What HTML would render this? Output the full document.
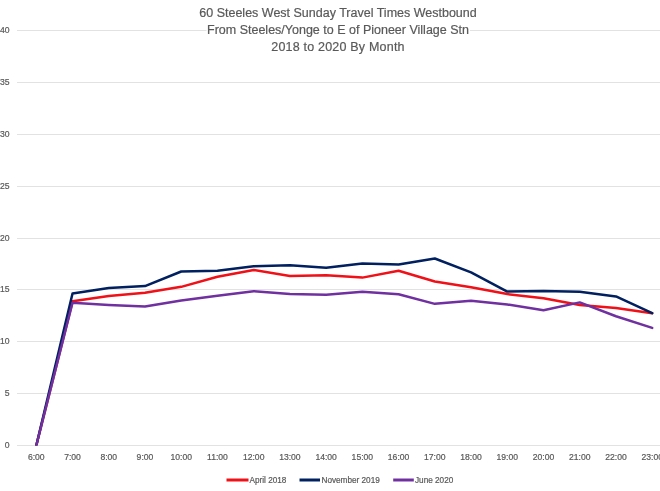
<!DOCTYPE html>
<html><head><meta charset="utf-8"><style>
html,body{margin:0;padding:0;background:#fff;width:660px;height:491px;overflow:hidden}
svg{display:block;will-change:transform}
text{font-family:"Liberation Sans",sans-serif;fill:#595959;stroke:#595959;stroke-width:0.2px}
.ti{font-size:12.5px}
.ax{font-size:8.6px}
.lg{font-size:8.2px}
</style></head><body>
<svg width="660" height="491" viewBox="0 0 660 491">
<defs><clipPath id="pc"><rect x="17" y="0" width="660" height="445.6"/></clipPath></defs>
<rect width="660" height="491" fill="#fff"/>
<rect x="17" width="643" y="445" height="1" fill="#E2E2E2"/>
<text x="9.5" y="448.00" text-anchor="end" class="ax">0</text>
<rect x="17" width="643" y="393" height="1" fill="#E2E2E2"/>
<text x="9.5" y="396.00" text-anchor="end" class="ax">5</text>
<rect x="17" width="643" y="341" height="1" fill="#E2E2E2"/>
<text x="9.5" y="344.00" text-anchor="end" class="ax">10</text>
<rect x="17" width="643" y="289" height="1" fill="#E2E2E2"/>
<text x="9.5" y="292.00" text-anchor="end" class="ax">15</text>
<rect x="17" width="643" y="238" height="1" fill="#E2E2E2"/>
<text x="9.5" y="241.00" text-anchor="end" class="ax">20</text>
<rect x="17" width="643" y="186" height="1" fill="#E2E2E2"/>
<text x="9.5" y="189.00" text-anchor="end" class="ax">25</text>
<rect x="17" width="643" y="134" height="1" fill="#E2E2E2"/>
<text x="9.5" y="137.00" text-anchor="end" class="ax">30</text>
<rect x="17" width="643" y="82" height="1" fill="#E2E2E2"/>
<text x="9.5" y="85.00" text-anchor="end" class="ax">35</text>
<rect x="17" width="643" y="30" height="1" fill="#E2E2E2"/>
<text x="9.5" y="33.00" text-anchor="end" class="ax">40</text>
<rect x="206.5" y="20" width="263.5" height="17" fill="#fff"/>
<text x="338" y="17" text-anchor="middle" class="ti">60 Steeles West Sunday Travel Times Westbound</text>
<text x="338" y="34" text-anchor="middle" class="ti">From Steeles/Yonge to E of Pioneer Village Stn</text>
<text x="338" y="51" text-anchor="middle" class="ti" letter-spacing="0.2">2018 to 2020 By Month</text>
<text x="36.30" y="460" text-anchor="middle" class="ax">6:00</text>
<text x="72.53" y="460" text-anchor="middle" class="ax">7:00</text>
<text x="108.76" y="460" text-anchor="middle" class="ax">8:00</text>
<text x="144.99" y="460" text-anchor="middle" class="ax">9:00</text>
<text x="181.22" y="460" text-anchor="middle" class="ax">10:00</text>
<text x="217.45" y="460" text-anchor="middle" class="ax">11:00</text>
<text x="253.68" y="460" text-anchor="middle" class="ax">12:00</text>
<text x="289.91" y="460" text-anchor="middle" class="ax">13:00</text>
<text x="326.14" y="460" text-anchor="middle" class="ax">14:00</text>
<text x="362.37" y="460" text-anchor="middle" class="ax">15:00</text>
<text x="398.60" y="460" text-anchor="middle" class="ax">16:00</text>
<text x="434.83" y="460" text-anchor="middle" class="ax">17:00</text>
<text x="471.06" y="460" text-anchor="middle" class="ax">18:00</text>
<text x="507.29" y="460" text-anchor="middle" class="ax">19:00</text>
<text x="543.52" y="460" text-anchor="middle" class="ax">20:00</text>
<text x="579.75" y="460" text-anchor="middle" class="ax">21:00</text>
<text x="615.98" y="460" text-anchor="middle" class="ax">22:00</text>
<text x="652.21" y="460" text-anchor="middle" class="ax">23:00</text>
<polyline points="36.30,445.50 72.53,301.36 108.76,295.96 144.99,292.85 181.22,286.84 217.45,276.68 253.68,269.94 289.91,276.05 326.14,275.22 362.37,277.61 398.60,270.77 434.83,281.55 471.06,287.15 507.29,294.10 543.52,298.25 579.75,304.99 615.98,307.89 652.21,313.18" fill="none" stroke="#F01018" stroke-width="2.5" stroke-linejoin="round" stroke-linecap="round" clip-path="url(#pc)"/>
<polyline points="36.30,445.50 72.53,293.58 108.76,288.08 144.99,286.11 181.22,271.49 217.45,270.77 253.68,266.31 289.91,265.27 326.14,267.86 362.37,263.40 398.60,264.54 434.83,258.53 471.06,272.32 507.29,291.61 543.52,290.99 579.75,291.82 615.98,296.48 652.21,313.18" fill="none" stroke="#002060" stroke-width="2.5" stroke-linejoin="round" stroke-linecap="round" clip-path="url(#pc)"/>
<polyline points="36.30,445.50 72.53,302.71 108.76,304.88 144.99,306.54 181.22,300.53 217.45,295.76 253.68,291.19 289.91,293.89 326.14,294.72 362.37,291.71 398.60,294.31 434.83,303.85 471.06,300.73 507.29,304.47 543.52,310.17 579.75,302.39 615.98,316.29 652.21,327.90" fill="none" stroke="#7030A0" stroke-width="2.5" stroke-linejoin="round" stroke-linecap="round" clip-path="url(#pc)"/>
<line x1="226.5" x2="248.5" y1="480" y2="480" stroke="#F01018" stroke-width="3"/>
<text x="249.5" y="483" class="lg">April 2018</text>
<line x1="299.5" x2="320" y1="480" y2="480" stroke="#002060" stroke-width="3"/>
<text x="321.5" y="483" class="lg">November 2019</text>
<line x1="393.2" x2="413.8" y1="480" y2="480" stroke="#7030A0" stroke-width="3"/>
<text x="415" y="483" class="lg">June 2020</text>
</svg>
</body></html>
